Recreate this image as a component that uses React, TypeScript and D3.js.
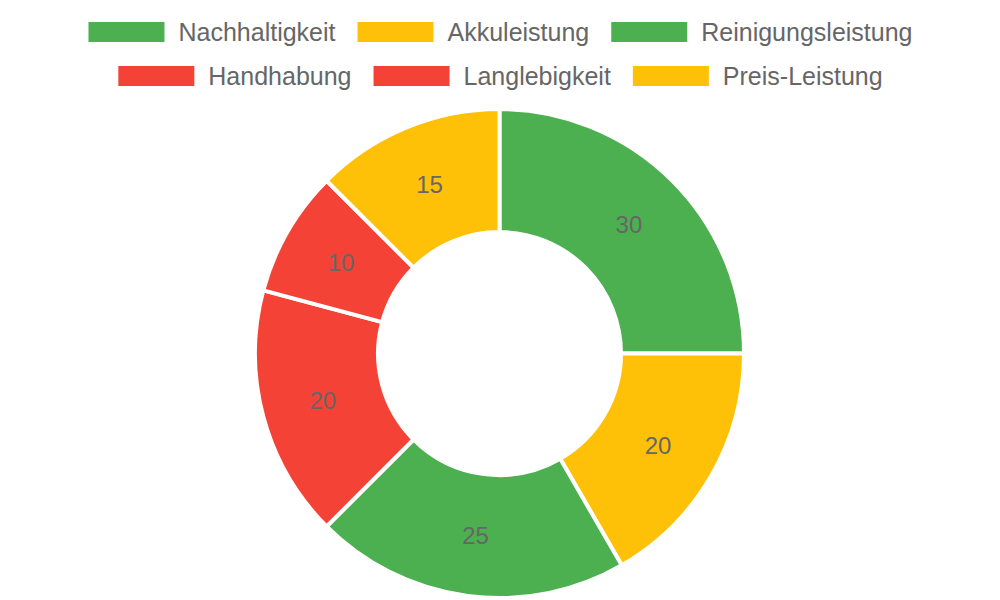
import React, { useEffect, useRef } from "react";
import * as d3 from "d3";

const categories = ["Nachhaltigkeit", "Akkuleistung", "Reinigungsleistung", "Handhabung", "Langlebigkeit", "Preis-Leistung"];
const values = [30, 20, 25, 20, 10, 15];
const colors = ["#4CAF50", "#FFC107", "#4CAF50", "#F44336", "#F44336", "#FFC107"];
const legendRows = [[0, 1, 2], [3, 4, 5]];

const W = 1000;
const H = 600;
const CX = 499.5;
const CY = 353.6;
const R_OUT = 244.5;
const R_IN = 121.5;
const FONT = "Liberation Sans, Arial, Helvetica, sans-serif";

export default function App() {
  const ref = useRef<SVGSVGElement | null>(null);

  useEffect(() => {
    const svg = d3.select(ref.current);
    svg.selectAll("*").remove();

    const pie = d3.pie<number>().sort(null).value((d) => d)(values);
    const arc = d3.arc<d3.PieArcDatum<number>>().innerRadius(R_IN).outerRadius(R_OUT);

    const g = svg.append("g").attr("transform", `translate(${CX},${CY})`);
    g.selectAll("path")
      .data(pie)
      .join("path")
      .attr("d", arc as any)
      .attr("fill", (_d, i) => colors[i])
      .attr("stroke", "#fff")
      .attr("stroke-width", 4)
      .attr("stroke-linejoin", "miter");

    g.selectAll("text")
      .data(pie)
      .join("text")
      .attr("transform", (d) => `translate(${arc.centroid(d)})`)
      .attr("text-anchor", "middle")
      .attr("dominant-baseline", "central")
      .attr("font-family", FONT)
      .attr("font-size", 24)
      .attr("fill", "#666")
      .text((d) => String(d.data));

    // legend
    const boxW = 76;
    const boxH = 20;
    const textGap = 14;
    const itemGap = 22;
    const rowY = [32, 76];
    const fontSize = 25;
    const lg = svg.append("g");
    legendRows.forEach((row, ri) => {
      const widths = row.map((i) => {
        const t = lg.append("text").attr("font-family", FONT).attr("font-size", fontSize).text(categories[i]);
        const w = (t.node() as SVGTextElement).getComputedTextLength();
        t.remove();
        return boxW + textGap + w;
      });
      const total = widths.reduce((a, b) => a + b, 0) + itemGap * (row.length - 1);
      let x = 500.5 - total / 2;
      row.forEach((i, k) => {
        lg.append("rect")
          .attr("x", x)
          .attr("y", rowY[ri] - boxH / 2)
          .attr("width", boxW)
          .attr("height", boxH)
          .attr("fill", colors[i]);
        lg.append("text")
          .attr("x", x + boxW + textGap)
          .attr("y", rowY[ri])
          .attr("dominant-baseline", "central")
          .attr("font-family", FONT)
          .attr("font-size", fontSize)
          .attr("fill", "#666")
          .text(categories[i]);
        x += widths[k] + itemGap;
      });
    });
  }, []);

  return (
    <svg
      ref={ref}
      width={W}
      height={H}
      style={{ position: "absolute", left: 0, top: 0, background: "#fff" }}
    />
  );
}
